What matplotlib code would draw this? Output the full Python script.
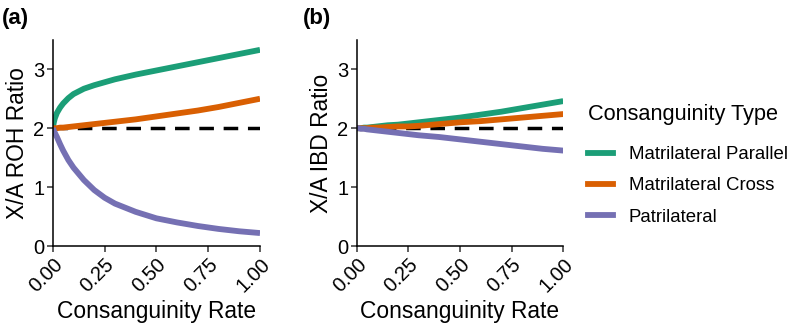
import matplotlib
matplotlib.use('Agg')
import matplotlib.pyplot as plt
from matplotlib.lines import Line2D

plt.rcParams['font.family'] = ['Liberation Sans', 'DejaVu Sans']

# Данные
rate = [0.0, 0.005, 0.01, 0.02, 0.035, 0.05, 0.075, 0.1, 0.15, 0.2, 0.25,
        0.3, 0.4, 0.5, 0.6, 0.7, 0.8, 0.9, 1.0]

roh_parallel = [2.0, 2.1, 2.17, 2.26, 2.35, 2.42, 2.51, 2.58, 2.67, 2.73, 2.78,
                2.83, 2.91, 2.98, 3.05, 3.12, 3.19, 3.26, 3.33]
roh_cross = [2.0, 2.0, 2.0, 2.0, 2.01, 2.01, 2.02, 2.03, 2.05, 2.07, 2.09,
             2.11, 2.15, 2.2, 2.25, 2.3, 2.36, 2.43, 2.5]
roh_patri = [2.0, 1.96, 1.92, 1.85, 1.73, 1.62, 1.46, 1.33, 1.12, 0.95, 0.82,
             0.72, 0.58, 0.47, 0.4, 0.34, 0.29, 0.25, 0.22]

ibd_parallel = [2.0, 2.0, 2.0, 2.0, 2.01, 2.01, 2.02, 2.03, 2.05, 2.06, 2.08,
                2.1, 2.14, 2.18, 2.23, 2.28, 2.34, 2.4, 2.46]
ibd_cross = [2.0, 2.0, 2.0, 2.0, 2.0, 2.0, 2.01, 2.01, 2.02, 2.03, 2.03,
             2.04, 2.07, 2.1, 2.12, 2.15, 2.18, 2.21, 2.24]
ibd_patri = [2.0, 2.0, 2.0, 1.99, 1.99, 1.98, 1.97, 1.96, 1.94, 1.92, 1.9,
             1.88, 1.85, 1.81, 1.77, 1.73, 1.69, 1.65, 1.62]

labels = ['Matrilateral Parallel', 'Matrilateral Cross', 'Patrilateral']
colors = ['#1B9E77', '#D95F02', '#7570B3']
xticks = [0.0, 0.25, 0.5, 0.75, 1.0]
xticklabels = ['0.00', '0.25', '0.50', '0.75', '1.00']
yticks = [0, 1, 2, 3]

fig = plt.figure(figsize=(8, 3.32), dpi=100)
ax1 = fig.add_axes([0.066, 0.259, 0.259, 0.621])
ax2 = fig.add_axes([0.446, 0.259, 0.258, 0.621])

panels = [
    (ax1, [roh_parallel, roh_cross, roh_patri], 'X/A ROH Ratio', '(a)'),
    (ax2, [ibd_parallel, ibd_cross, ibd_patri], 'X/A IBD Ratio', '(b)'),
]

for ax, series, ylab, tag in panels:
    ax.plot([0, 1], [2, 2], color='black', lw=2.5, ls=(0, (4.2, 2.8)), zorder=1)
    for s, c in zip(series, colors):
        ax.plot(rate, s, color=c, lw=4.2, solid_capstyle='butt',
                solid_joinstyle='round', zorder=2)
    ax.set_xlim(0, 1)
    ax.set_ylim(0, 3.5)
    ax.set_xticks(xticks)
    ax.set_xticklabels(xticklabels, rotation=45, ha='right', va='top',
                       rotation_mode='anchor')
    ax.set_yticks(yticks)
    ax.tick_params(labelsize=14.5, width=1.1, length=4, color='#333333',
                   labelcolor='black', pad=2)
    for side in ['top', 'right']:
        ax.spines[side].set_visible(False)
    for side in ['left', 'bottom']:
        ax.spines[side].set_linewidth(1.1)
    ax.set_xlabel('Consanguinity Rate', fontsize=16.4, labelpad=3)
    ax.set_ylabel(ylab, fontsize=16.4, labelpad=3)

fig.text(0.002, 0.975, '(a)', fontsize=16, fontweight='bold', va='top', ha='left')
fig.text(0.379, 0.975, '(b)', fontsize=16, fontweight='bold', va='top', ha='left')

# Легенда
handles = [Line2D([0], [0], color=c, lw=4.2) for c in colors]
leg = fig.legend(handles, labels, title='Consanguinity Type',
                 loc='center left', bbox_to_anchor=(0.723, 0.503),
                 frameon=False, fontsize=13.4, title_fontsize=15.7,
                 handlelength=1.35, handletextpad=0.85, labelspacing=0.76,
                 borderpad=0.0)
leg._legend_box.align = 'left'
leg._legend_box.sep = 15

fig.savefig('out.png', dpi=100)
